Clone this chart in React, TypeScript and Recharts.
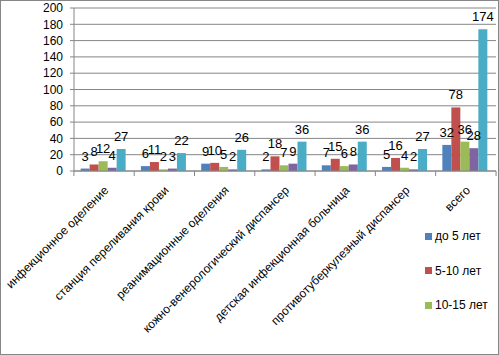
import { Bar, BarChart, CartesianGrid, LabelList, XAxis, YAxis } from "recharts";

const categories = [
  "инфекционное оделение",
  "станция переливания крови",
  "реанимационные оделения",
  "кожно-венерологический диспансер",
  "детская инфекционная больница",
  "противотуберкулезный диспансер",
  "всего"
];
const under5 = [3, 6, 9, 2, 7, 5, 32];
const from5to10 = [8, 11, 10, 18, 15, 16, 78];
const from10to15 = [12, 2, 5, 7, 6, 4, 36];
const from15to18 = [4, 3, 2, 9, 8, 2, 28];
const totals = [27, 22, 26, 36, 36, 27, 174];
const yTicks = [0, 20, 40, 60, 80, 100, 120, 140, 160, 180, 200];

const seriesNames = ["до 5 лет", "5-10 лет", "10-15 лет", "15-18 лет", "итого"];
const colors = ["#4F81BD", "#C0504D", "#9BBB59", "#8064A2", "#4BACC6"];

const data = categories.map((name, i) => ({
  name,
  s0: under5[i],
  s1: from5to10[i],
  s2: from10to15[i],
  s3: from15to18[i],
  s4: totals[i]
}));

const W = 499;
const H = 355;
const PLOT_LEFT = 74;
const PLOT_RIGHT = 2;
const halfBand = (W - PLOT_LEFT - PLOT_RIGHT) / categories.length / 2;
const font = "'Liberation Sans', Arial, sans-serif";
const gridColor = "#868686";

function CategoryTick(props: any) {
  const { x, y, payload, index } = props;
  const ax = x + 5;
  const ay = y + 12;
  return (
    <g>
      <line x1={x - halfBand} x2={x - halfBand} y1={y - 8} y2={y - 3} stroke={gridColor} />
      {index === categories.length - 1 && (
        <line x1={x + halfBand} x2={x + halfBand} y1={y - 8} y2={y - 3} stroke={gridColor} />
      )}
      <text
        x={ax}
        y={ay}
        transform={`rotate(-45, ${ax}, ${ay})`}
        textAnchor="end"
        fontSize={12}
        fontFamily={font}
        fill="#000"
      >
        {payload.value}
      </text>
    </g>
  );
}

function LegendBox() {
  return (
    <div
      style={{
        position: "absolute",
        left: 424,
        top: 218,
        fontFamily: font,
        fontSize: 12,
        color: "#000"
      }}
    >
      {seriesNames.slice(0, 3).map((n, i) => (
        <div key={n} style={{ display: "flex", alignItems: "center", height: 34.5 }}>
          <span style={{ width: 7, height: 7, background: colors[i], marginRight: 3 }} />
          <span>{n}</span>
        </div>
      ))}
    </div>
  );
}

export default function App() {
  return (
    <div
      style={{
        position: "absolute",
        left: 0,
        top: 0,
        width: W,
        height: H,
        boxSizing: "border-box",
        border: `1px solid ${gridColor}`,
        background: "#fff"
      }}
    >
      <BarChart
        width={W - 2}
        height={H - 2}
        data={data}
        margin={{ top: 7, right: PLOT_RIGHT, bottom: 0, left: 0 }}
        barGap={0}
        barCategoryGap="11%"
      >
        <CartesianGrid vertical={false} stroke={gridColor} />
        <XAxis
          dataKey="name"
          interval={0}
          height={183}
          axisLine={{ stroke: gridColor }}
          tickLine={false}
          tick={<CategoryTick />}
        />
        <YAxis
          width={PLOT_LEFT - 1}
          domain={[0, 200]}
          ticks={yTicks}
          interval={0}
          axisLine={{ stroke: gridColor }}
          tickLine={{ stroke: gridColor }}
          tickSize={4}
          tick={{ fontSize: 12, fill: "#000", fontFamily: font, dx: -5 }}
        />
        {["s0", "s1", "s2", "s3", "s4"].map((k, i) => (
          <Bar key={k} dataKey={k} name={seriesNames[i]} fill={colors[i]} isAnimationActive={false}>
            <LabelList dataKey={k} position="top" offset={8} fontSize={13} fill="#000" fontFamily={font} />
          </Bar>
        ))}
      </BarChart>
      <LegendBox />
    </div>
  );
}
